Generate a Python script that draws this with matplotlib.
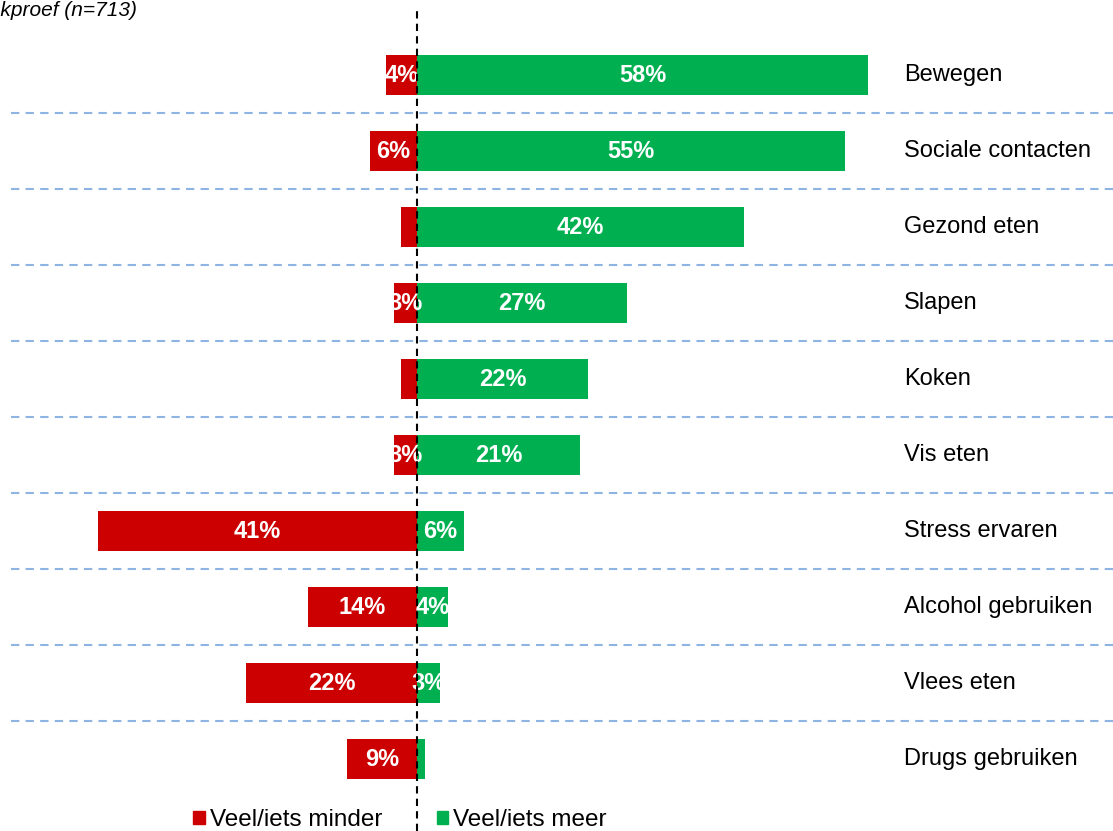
import matplotlib.pyplot as plt
from matplotlib.patches import Patch

plt.rcParams['font.family'] = ['Liberation Sans', 'DejaVu Sans']

categories = ["Bewegen", "Sociale contacten", "Gezond eten", "Slapen", "Koken",
              "Vis eten", "Stress ervaren", "Alcohol gebruiken", "Vlees eten",
              "Drugs gebruiken"]
minder = [4, 6, 2, 3, 2, 3, 41, 14, 22, 9]
meer = [58, 55, 42, 27, 22, 21, 6, 4, 3, 1]
legend_labels = ["Veel/iets minder", "Veel/iets meer"]
subtitle = "Totale steekproef (n=713)"

RED = "#CC0000"
GREEN = "#00B050"
GRID = "#8EB4E3"

fig = plt.figure(figsize=(11.13, 8.31), dpi=100)
ax = fig.add_axes([0, 0, 1, 1])

rows = list(range(len(categories)))
neg = [-v for v in minder]
ax.barh(rows, neg, height=0.52, color=RED, zorder=2)
ax.barh(rows, meer, height=0.52, color=GREEN, zorder=2)

# value labels, skipped for the tiny slivers
for y, v in zip(rows, minder):
    if v >= 3:
        ax.text(-v / 2, y, f"{v}%", ha="center", va="center", color="white",
                fontsize=17, fontweight="bold", zorder=4)
for y, v in zip(rows, meer):
    if v >= 3:
        ax.text(v / 2, y, f"{v}%", ha="center", va="center", color="white",
                fontsize=17, fontweight="bold", zorder=4)

for y, name in zip(rows, categories):
    ax.text(62.6, y, name, ha="left", va="center", fontsize=17, color="black")

# row separators
for y in rows[:-1]:
    ax.axhline(y + 0.5, xmin=11 / 1113, xmax=1, color=GRID, lw=1.5,
               dashes=(4, 3), zorder=1)

# zero line
ax.axvline(0, ymin=0, ymax=1 - 8 / 831, color="black", lw=1.5,
           dashes=(3.5, 2.5), zorder=5)

ax.set_xlim((0 - 417) / 7.78, (1113 - 417) / 7.78)
ax.set_ylim((831 - 75) / 76, -75 / 76)
ax.axis("off")

handles = [Patch(color=RED), Patch(color=GREEN)]
fig.legend(handles, legend_labels, loc="center left",
           bbox_to_anchor=(193 / 1113, 1 - 820 / 831), ncol=2, frameon=False,
           fontsize=17.5, handlelength=0.48, handleheight=0.48,
           handletextpad=0.2, columnspacing=2.25, borderaxespad=0,
           borderpad=0)

fig.text(137 / 1113, 1 - 11 / 831, subtitle, ha="right", va="center",
         fontsize=15, style="italic")

fig.savefig("out.png", dpi=100)
